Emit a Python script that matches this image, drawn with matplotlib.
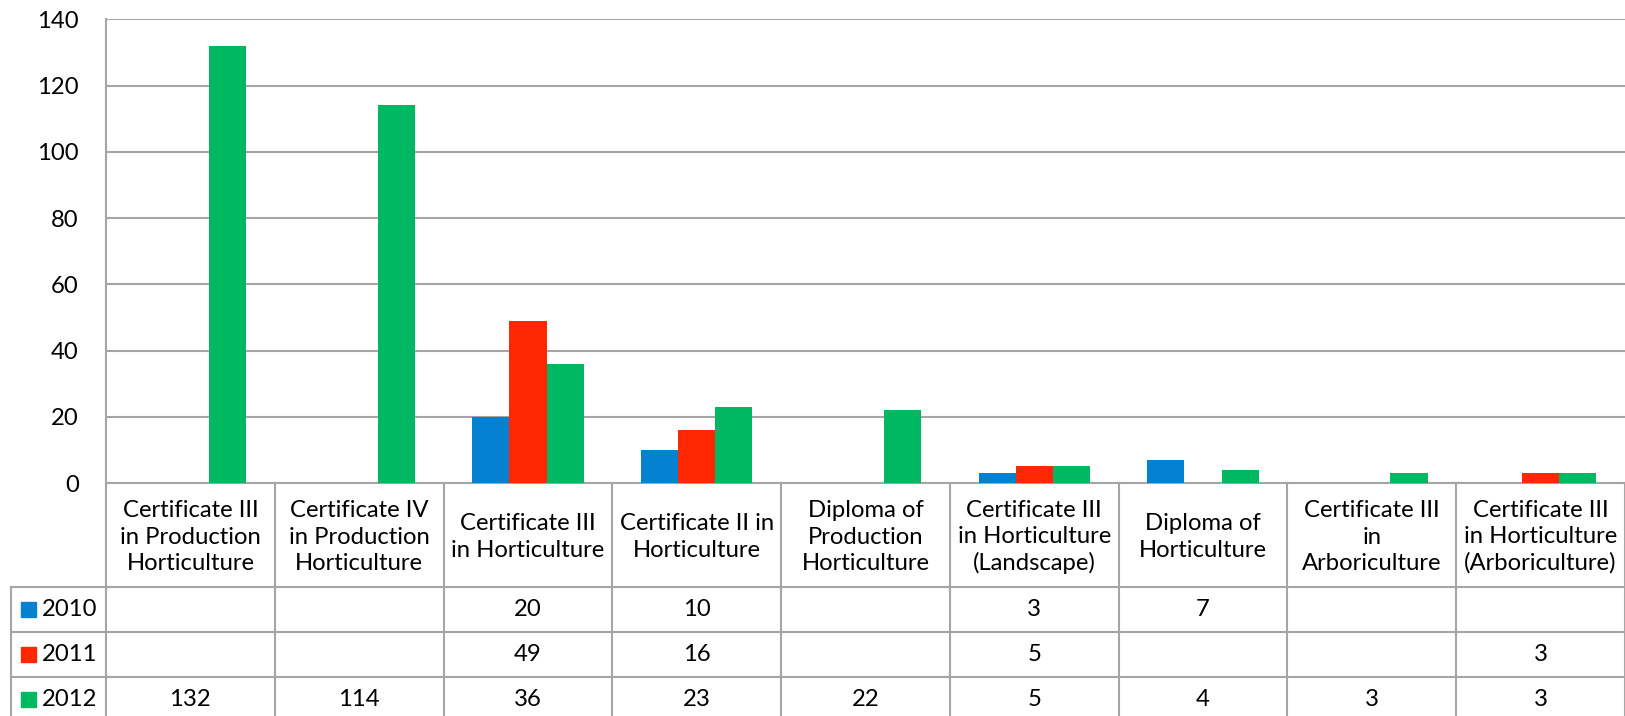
import numpy as np
import matplotlib.pyplot as plt
from matplotlib.patches import Rectangle

plt.rcParams['font.family'] = ['Lato', 'DejaVu Sans']

# data
categories = ['Certificate III\nin Production\nHorticulture',
              'Certificate IV\nin Production\nHorticulture',
              'Certificate III\nin Horticulture',
              'Certificate II in\nHorticulture',
              'Diploma of\nProduction\nHorticulture',
              'Certificate III\nin Horticulture\n(Landscape)',
              'Diploma of\nHorticulture',
              'Certificate III\nin\nArboriculture',
              'Certificate III\nin Horticulture\n(Arboriculture)']
years = ['2010', '2011', '2012']
v2010 = [None, None, 20, 10, None, 3, 7, None, None]
v2011 = [None, None, 49, 16, None, 5, None, None, 3]
v2012 = [132, 114, 36, 23, 22, 5, 4, 3, 3]
series = [v2010, v2011, v2012]
colors = ['#0581d1', '#ff2700', '#00b862']
yticks = [0, 20, 40, 60, 80, 100, 120, 140]

W, H = 1625, 716
GRID = '#a5a5a5'
FS = 17.2

fig = plt.figure(figsize=(W / 100, H / 100), dpi=100)
left, zero_y, top_y, right = 106, 483, 19.3, 1625
ax = fig.add_axes([left / W, (H - zero_y) / H, (right - left) / W, (zero_y - top_y) / H])

x = np.arange(len(categories))
bw = 0.22
for i, (vals, c) in enumerate(zip(series, colors)):
    h = [0 if v is None else v for v in vals]
    ax.bar(x + (i - 1) * bw, h, width=bw, color=c, zorder=3)

ax.set_xlim(-0.5, len(categories) - 0.5)
ax.set_ylim(0, 140)
ax.set_yticks(yticks)
ax.yaxis.grid(True, color=GRID, linewidth=1.5, zorder=0)
ax.set_xticks([])
ax.tick_params(axis='y', length=0, pad=19.5, labelsize=FS)
for s in ['top', 'right']:
    ax.spines[s].set_visible(False)
for s in ['left', 'bottom']:
    ax.spines[s].set_color(GRID)
    ax.spines[s].set_linewidth(1.5)

# data table below the plot
tb = fig.add_axes([left / W, 0, (right - left) / W, (H - zero_y) / H], sharex=ax)
tb.set_ylim(H, zero_y)
tb.axis('off')
rows_y = [587, 632, 677, 722]
px = 168.8
leg_x = -0.5 + (11 - left) / px
n = len(categories)
lw = 1.5

# vertical lines
for b in np.arange(n + 1) - 0.5:
    tb.plot([b, b], [zero_y, 722], color=GRID, lw=lw, clip_on=False)
tb.plot([leg_x, leg_x], [rows_y[0], 722], color=GRID, lw=lw, clip_on=False)
# horizontal lines
for ry in rows_y:
    tb.plot([leg_x, n - 0.5], [ry, ry], color=GRID, lw=lw, clip_on=False)

# header labels
for i, cat in enumerate(categories):
    tb.text(i, 537, cat, ha='center', va='center', fontsize=FS, linespacing=1.3)

# values and legend
for r, (yr, vals, c) in enumerate(zip(years, series, colors)):
    cy = (rows_y[r] + rows_y[r + 1]) / 2
    tb.add_patch(Rectangle((-0.5 + (21 - left) / px, cy - 7.5), 15 / px, 15,
                           color=c, clip_on=False))
    tb.text(-0.5 + (42 - left) / px, cy, yr, ha='left', va='center', fontsize=FS)
    for i, v in enumerate(vals):
        if v is not None:
            tb.text(i, cy, str(v), ha='center', va='center', fontsize=FS)

fig.savefig('out.png', dpi=100)
